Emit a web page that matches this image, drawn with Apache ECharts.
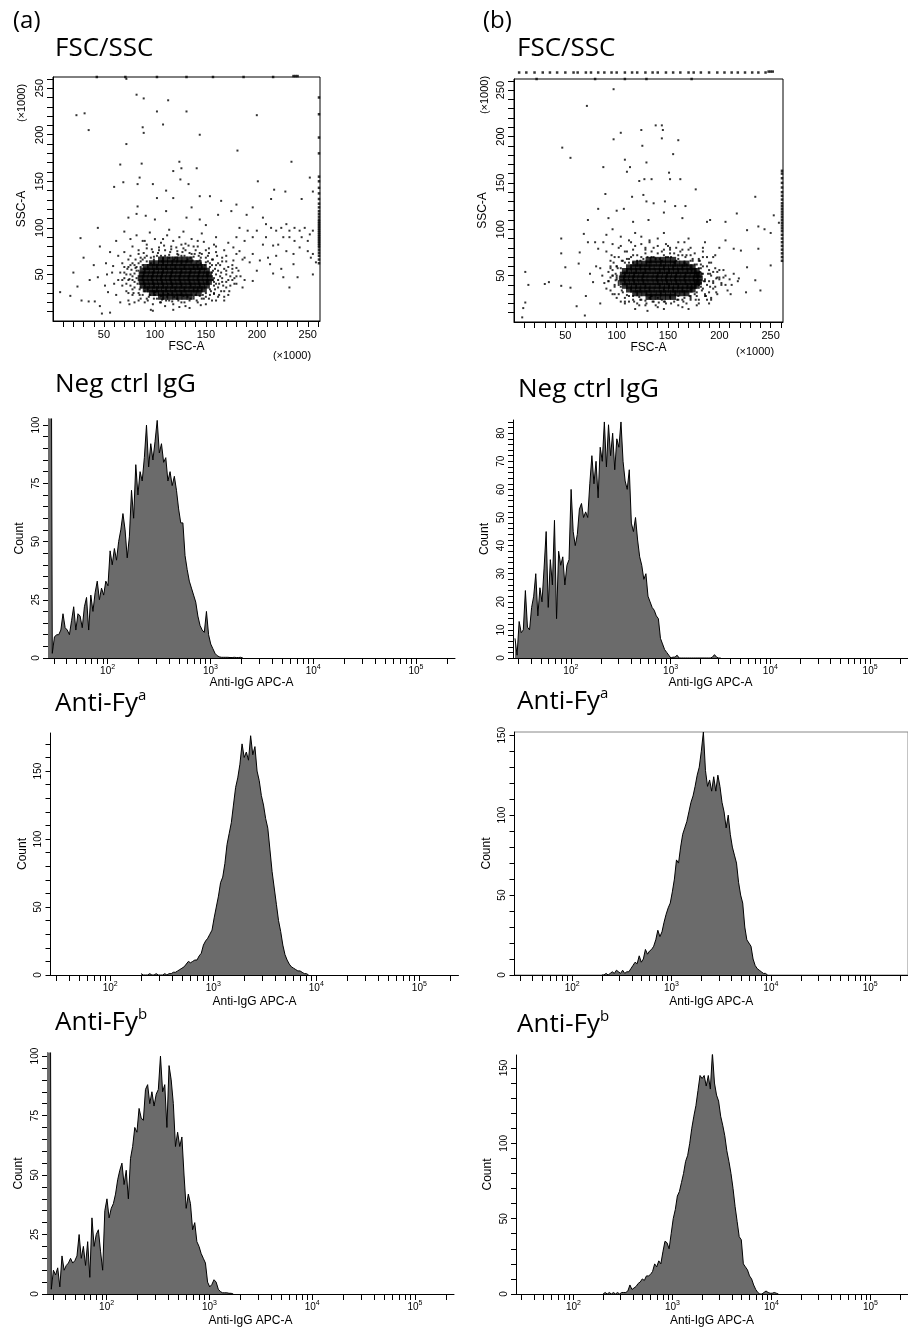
<!DOCTYPE html>
<html>
<head>
<meta charset="utf-8">
<script src="https://cdn.jsdelivr.net/npm/echarts@6/dist/echarts.min.js"></script>
<style>html,body{margin:0;padding:0;background:#fff}#chart{width:908px;height:1328px}</style>
</head>
<body>
<div id="chart"></div>
<script>
// histogram bins: 48 channels per decade, counts
const binsPerDecade = 48;

const negCtrlAStart = 1.42;
const negCtrlA = [300, 300, 2, 9, 10, 10, 12, 19, 13, 12, 10, 16, 22, 12, 19, 18, 13, 22, 26, 12, 27, 20, 28, 33, 25, 30, 27, 33, 31, 46,
  40, 47, 42, 50, 55, 62, 55, 43, 52, 72, 60, 83, 70, 80, 76, 86, 100, 82, 92, 85, 93, 102, 88, 92, 84, 86, 76, 80, 74, 78,
  72, 64, 58, 58, 44, 38, 33, 30, 27, 24, 18, 14, 12, 11, 20, 10, 6, 4, 2, 1, 0.5, 0.3, 0.3, 0.3, 0.3, 0.2, 0.2, 0.3, 0.2, 0.2, 0.3, 0];

const negCtrlBStart = 1.44;
const negCtrlB = [7, 1, 13, 9, 10, 24, 11, 10, 18, 22, 30, 15, 25, 20, 32, 45, 18, 35, 26, 49, 14, 38, 33, 36, 26, 33, 35, 60, 45, 40,
  44, 53, 55, 50, 52, 50, 62, 72, 62, 70, 57, 75, 70, 84, 68, 83, 72, 80, 67, 78, 75, 84, 70, 63, 60, 67, 48, 45, 50, 42,
  36, 33, 28, 30, 22, 20, 18, 17, 15, 14, 7, 5, 3, 2, 1, 0, 0.3, 0.3, 1, 0, 0, 0, 0, 0, 0, 0, 0, 0, 0, 0,
  0, 0, 0, 0, 0, 0.3, 1.2, 0.3, 0, 0];

const fyaAStart = 2.3;
const fyaA = [1, 0, 0, 0, 1, 0, 0, 1, 0, 0, 0, 1, 0, 1, 1, 2, 2, 3, 4, 5, 6, 8, 10, 9, 10, 11, 11, 14, 16, 22,
  25, 27, 30, 33, 42, 50, 58, 68, 72, 82, 96, 104, 112, 125, 138, 145, 155, 170, 160, 164, 158, 176, 162, 168, 150, 143, 132, 125, 115, 108,
  92, 76, 64, 52, 40, 32, 22, 15, 11, 8, 6, 5, 4, 3, 3, 2, 1, 1, 0];

const fyaBStart = 2.3;
const fyaB = [0, 0, 1, 0, 1, 2, 1, 3, 2, 1, 3, 1, 2, 2, 4, 6, 8, 7, 12, 8, 10, 16, 13, 15, 16, 18, 22, 28, 24, 27,
  33, 38, 42, 45, 52, 60, 72, 70, 80, 88, 92, 96, 102, 108, 112, 118, 125, 130, 140, 152, 128, 118, 122, 115, 124, 115, 125, 118, 108, 102,
  92, 100, 88, 80, 75, 70, 58, 50, 45, 30, 22, 20, 18, 10, 6, 4, 3, 2, 1, 1, 0];

const fybAStart = 1.42;
const fybA = [300, 300, 2, 10, 8, 11, 3, 16, 10, 12, 13, 15, 13, 14, 16, 25, 15, 20, 12, 22, 7, 32, 20, 25, 27, 18, 10, 35, 40, 32,
  36, 38, 42, 48, 52, 55, 46, 52, 40, 57, 62, 70, 68, 78, 74, 73, 86, 88, 80, 85, 79, 84, 86, 100, 85, 88, 70, 96, 90, 80,
  62, 68, 62, 66, 50, 36, 42, 38, 27, 30, 22, 20, 17, 15, 13, 5, 3, 4, 6, 5, 2, 1, 0.5, 0.5, 0.5, 0.3, 0.3, 0];

const fybBStart = 2.3;
const fybB = [0, 1, 0, 1, 0, 1, 0, 1, 0, 1, 1, 1, 2, 6, 3, 4, 5, 7, 8, 10, 9, 12, 12, 13, 15, 20, 18, 22, 20, 28,
  35, 34, 30, 40, 50, 56, 65, 68, 74, 80, 88, 92, 100, 110, 118, 125, 135, 145, 143, 145, 138, 145, 136, 160, 140, 132, 128, 118, 112, 105,
  95, 88, 80, 70, 58, 48, 38, 36, 20, 18, 16, 12, 10, 6, 3, 1, 0, 0, 1, 2, 1, 0.5, 0.5, 1, 0.5, 0];

// axis ticks / labels
const logLabelValues = [100, 1000, 10000, 100000];
const scatterLabelValues = [50, 100, 150, 200, 250];
const countLabels = {
  negA: [0, 25, 50, 75, 100], negB: [0, 10, 20, 30, 40, 50, 60, 70, 80],
  fyaA: [0, 50, 100, 150], fyaB: [0, 50, 100, 150],
  fybA: [0, 25, 50, 75, 100], fybB: [0, 50, 100, 150]
};

// FSC/SSC dot plots (x1000), dense centre rows [y, xs]
const coreRowsA = [
  [66, [106, 110, 115, 120, 124, 129, 134]],
  [62, [97, 101, 106, 110, 115, 119, 124, 128, 133, 138, 143]],
  [58, [91, 95, 100, 104, 109, 113, 118, 122, 127, 131, 136, 140, 144, 148]],
  [54, [88, 92, 97, 101, 106, 110, 115, 119, 124, 128, 133, 137, 142, 146, 151]],
  [50, [87, 91, 96, 100, 105, 109, 114, 118, 123, 127, 132, 136, 141, 145, 150, 153]],
  [46, [86, 90, 95, 99, 104, 108, 113, 117, 122, 126, 131, 135, 140, 144, 149, 154]],
  [42, [87, 91, 96, 100, 105, 109, 114, 118, 123, 127, 132, 136, 141, 145, 150, 153]],
  [38, [88, 92, 97, 101, 106, 110, 115, 119, 124, 128, 133, 137, 142, 146, 151]],
  [34, [91, 95, 100, 104, 109, 113, 118, 122, 127, 131, 136, 140, 144, 148]],
  [30, [97, 101, 106, 110, 115, 119, 124, 128, 133, 138, 143]],
  [26, [106, 110, 115, 120, 124, 129, 134]]
];
const ringA = [
  [84,62],[88,66],[92,70],[96,62],[99,69],[103,73],[107,64],[110,70],[115,74],[119,66],[123,71],[127,74],[131,64],[135,68],
  [139,72],[142,64],[145,68],[149,60],[152,64],[156,60],[159,56],[157,44],[160,50],[158,38],[155,32],[150,26],[144,27],[138,24],
  [132,26],[125,28],[119,26],[113,29],[106,27],[100,31],[95,28],[90,32],[86,36],[83,40],[82,46],[80,51],[81,57],[78,62],
  [76,70],[84,76],[92,82],[104,76],[116,77],[130,76],[138,80],[150,76],[161,70],[164,60],[166,46],[163,40],[170,36],[176,44],
  [172,58],[165,32],[160,22],[145,17],[124,15],[107,23],[92,24],[85,28],[78,34],[74,44],[70,52],[77,55],[89,73],[97,77],
  [109,81],[121,79],[133,81],[144,73],[153,73],[158,29],[145,62],[137,65],
  [78,48],[80,42],[82,58],[76,38],[79,30],[84,22],[88,28],[93,22],[99,24],[105,20],[111,22],[117,21],[123,22],[129,20],
  [135,24],[141,22],[147,28],[153,24],[159,34],[163,28],[167,38],[162,44],[165,52],[160,60],[166,64],[170,54],[174,48],
  [178,40],[173,32],[168,26],[157,66],[150,68],[143,70],[136,72],[129,70],[122,72],[114,68],[106,70],[99,66],[92,64],
  [86,68],[81,66],[76,60],[72,50],[75,45],[85,34],[84,54],[88,60],[154,62],[157,54],[158,42],[154,28],[148,24],[70,58],
  [68,44],[74,30],[90,86],[108,88],[126,82],[142,86],[160,80],[170,70],[180,48],[170,42],[176,56]
];
const cloudA = [
  [82,92],[88,86],[95,95],[100,88],[106,84],[112,92],[118,86],[124,90],[130,83],[136,88],[142,80],[148,85],[153,78],[158,82],
  [92,78],[98,74],[104,79],[110,76],[116,80],[122,75],[128,78],[134,73],[140,76],[146,72],[152,70],[160,74],[166,68],[84,72],
  [90,68],[78,80],[74,66],[86,64],[96,68],[102,70],[108,67],[114,71],[120,68],[126,70],[132,66],[138,69],[144,65],[150,63],
  [156,66],[162,62],[170,64],[176,60],[80,60],[73,56],[68,62],[64,70],[70,74],[76,88],[70,96],[114,98],[128,96],[146,94],
  [160,90],[172,84],[168,76],[180,72],[186,66],[66,52],[70,46],[72,40],[76,50],[78,44],[80,36],[82,54],[84,30],[78,28],
  [72,32],[68,38],[64,44],[86,58],[74,58],[154,58],[156,52],[158,46],[160,40],[162,54],[164,48],[166,42],[168,56],[170,50],
  [172,44],[174,38],[176,52],[178,46],[154,34],[158,30],[162,36],[168,32],[180,40],[182,54],[184,48],[188,44],[150,30],[186,36],
  [86,24],[90,20],[94,26],[98,18],[102,24],[106,20],[110,16],[114,22],[118,18],[122,24],[126,20],[130,16],[134,22],[138,26],
  [142,20],[146,24],[150,18],[156,22],[162,26],[168,22],[80,20],[74,22],[96,12],[112,26],[128,27],[140,28],[100,28],[118,12],
  [134,14],[172,28],
  [72,260],[82,243],[89,239],[113,237],[102,225],[131,225],[23,221],[31,223],[200,221],[35,205],[88,208],[108,211],[89,202],
  [72,190],[144,200],[181,183],[66,168],[87,169],[124,171],[126,164],[118,161],[141,164],[60,144],[69,149],[85,154],[83,147],
  [98,147],[111,140],[125,152],[133,147],[144,134],[154,134],[165,129],[180,125],[201,150],[196,122],[214,131],[217,141],
  [228,139],[234,171],[252,154],[255,139],[244,131],[102,132],[118,132],[136,122],[83,123],[91,113],[74,111],[82,115],
  [100,109],[111,118],[131,111],[144,109],[150,103],[162,114],[175,118],[190,114],
  [206,111],[209,104],[214,100],[219,97],[224,100],[229,104],[232,97],[237,100],[242,97],[247,100],[252,93],[255,97],[250,86],
  [244,90],[237,86],[232,90],[226,90],[221,82],[216,81],[209,90],[206,82],[200,97],[196,90],[191,97],[188,86],[183,100],
  [180,90],[177,79],[229,75],[236,72],[242,79],[250,75],[255,72],[196,72],[203,65],[193,63],[188,68],[219,70],[224,56],
  [236,61],[253,68],[258,63],[213,61],[177,65],[183,75],[196,43],[232,36],[255,50],[240,47],[226,47],[200,54],[180,57],
  [216,51],[211,68],
  [7,31],[17,27],[24,37],[28,22],[35,21],[41,21],[46,16],[48,8],[54,31],[51,38],[44,47],[53,50],[30,68],[27,89],[44,100],
  [59,59],[60,40],[66,20],[75,18],[56,9],[98,11],[62,28],[58,52],[52,62],[40,60],[46,80],[56,74],[62,86],[36,44],[20,52]
];
const edgeA = [
  [261,62],[261,66],[261,70],[261,73],[261,76],[261,79],[261,81],[261,83],[261,85],[261,87],[261,89],[261,91],[261,93],
  [261,95],[261,97],[261,99],[261,101],[261,103],[261,105],[261,107],[261,109],[261,112],[261,115],[261,118],[261,122],
  [261,126],[261,131],[261,137],[261,143],[261,150],[261,155],[261,180],[261,197],[261,222],[261,240],
  [43,262],[71,262],[102,262],[131,262],[157,262],[187,262],[216,262],[236,263],[238,263],[240,263]
];

const coreRowsB = [
  [67, [131, 135, 140, 145, 150, 155]],
  [63, [118, 122, 127, 131, 136, 141, 145, 150, 155, 159, 164, 168]],
  [59, [112, 116, 121, 125, 130, 134, 139, 144, 148, 153, 157, 162, 166, 171, 174]],
  [55, [108, 112, 117, 121, 126, 130, 135, 140, 144, 149, 153, 158, 162, 167, 171, 175, 178]],
  [51, [106, 110, 115, 119, 124, 128, 133, 138, 142, 147, 151, 156, 160, 165, 169, 174, 178, 180]],
  [47, [105, 109, 114, 118, 123, 127, 132, 137, 141, 146, 150, 155, 159, 164, 168, 173, 177, 181]],
  [43, [106, 110, 115, 119, 124, 128, 133, 138, 142, 147, 151, 156, 160, 165, 169, 174, 178, 180]],
  [39, [108, 112, 117, 121, 126, 130, 135, 140, 144, 149, 153, 158, 162, 167, 171, 175, 178]],
  [35, [112, 116, 121, 125, 130, 134, 139, 144, 148, 153, 157, 162, 166, 171, 174]],
  [31, [118, 122, 127, 131, 136, 141, 145, 150, 155, 159, 164, 168]],
  [27, [131, 135, 140, 145, 150, 155]]
];
const ringB = [
  [108,64],[112,68],[116,72],[120,66],[124,70],[128,74],[132,64],[136,70],[140,74],[144,66],[148,70],[152,74],[156,64],[160,68],
  [164,72],[168,62],[172,66],[176,62],[180,58],[183,52],[185,44],[182,38],[178,32],[172,28],[166,26],[160,24],[152,28],[146,22],
  [140,26],[134,28],[128,23],[122,27],[116,24],[110,29],[105,34],[102,40],[100,46],[99,52],[101,58],[97,64],[95,72],[104,82],
  [116,78],[128,80],[140,82],[152,78],[162,76],[172,72],[180,66],[188,60],[191,52],[190,44],[194,36],[186,30],[180,20],[160,18],
  [138,18],[122,18],[108,20],[100,26],[94,34],[92,44],[96,50],[94,60],[102,70],[110,76],[124,84],[134,76],[146,78],[158,80],
  [170,78],[184,70],[196,58],[200,46],[188,24],[170,14],
  [100,48],[102,42],[104,58],[98,38],[102,30],[108,22],[112,28],[117,22],[123,24],[129,20],[135,22],[141,21],[147,22],[153,20],
  [159,24],[165,22],[171,28],[177,24],[183,34],[187,28],[191,38],[186,44],[189,52],[184,60],[190,64],[194,54],[198,48],
  [202,40],[197,32],[192,26],[181,66],[174,68],[167,70],[160,72],[153,70],[146,72],[138,68],[130,70],[123,66],[116,64],
  [110,68],[105,66],[100,60],[96,50],[99,45],[178,62],[181,54],[182,42],[178,28],[172,24],[194,42],[200,56],[94,58],
  [92,44],[98,30],[114,86],[132,88],[150,82],[166,86],[184,80],[194,70],[204,48]
];
const cloudB = [
  [112,88],[118,82],[124,92],[128,78],[132,86],[136,80],[140,90],[144,76],[148,84],[152,80],[156,74],[160,86],[164,78],[168,72],
  [172,80],[176,74],[180,68],[184,76],[120,72],[114,70],[108,76],[102,80],[98,70],[106,66],[112,64],[126,68],[134,70],[142,68],
  [150,70],[158,66],[166,64],[174,66],[182,62],[188,70],[192,64],[196,72],[100,60],[94,66],[90,76],[96,84],[104,92],[118,96],
  [146,96],[170,90],[186,86],[200,80],[206,88],[96,56],[100,50],[102,44],[104,38],[98,40],[94,48],[92,54],[90,36],[96,30],
  [106,32],[86,50],[88,42],[84,58],[182,58],[184,52],[186,46],[188,40],[190,56],[192,50],[194,44],[196,38],[198,54],[200,48],
  [202,42],[204,56],[206,50],[210,46],[212,40],[208,34],[198,30],[190,32],[184,36],[180,40],[214,52],[218,44],
  [108,26],[112,22],[116,28],[120,20],[124,24],[128,18],[132,26],[136,22],[140,16],[144,24],[148,20],[152,26],[156,22],
  [160,28],[164,24],[168,20],[172,26],[176,30],[180,24],[186,28],[192,24],[104,22],[118,14],[130,12],[146,14],[164,16],
  [178,18],[190,20],
  [97,251],[71,233],[104,204],[97,197],[47,188],[55,177],[87,167],[108,175],[110,162],[113,167],[124,207],[125,190],[138,212],
  [144,212],[145,207],[144,198],[160,196],[155,181],[129,172],[122,152],[127,154],[134,154],[151,161],[152,154],[162,154],
  [177,143],[89,138],[115,135],[126,137],[129,130],[136,128],[147,130],[157,125],[167,125],[100,120],[107,122],[82,122],
  [72,110],[92,112],[116,108],[131,110],[146,118],[164,112],[188,108],[191,110],[206,108],[217,117],[235,135],[227,99],
  [238,103],[244,100],[250,96],[253,115],[258,107],[238,79],[221,77],[214,79],[227,59],[235,45],[240,34],[250,61],[219,47],
  [226,32],[206,40],[197,47],[211,30],[46,90],[46,74],[50,59],[46,39],[55,37],[34,43],[30,41],[14,40],[11,54],[11,21],
  [9,15],[8,5],[61,17],[69,7],[63,63],[64,75],[72,86],[79,86],[82,79],[87,86],[68,95],[77,43],[80,60],[74,52],[70,28],
  [84,20],[90,94],[96,100]
];
const edgeB = [
  [261,66],[261,70],[261,74],[261,78],[261,82],[261,86],[261,90],[261,94],[261,98],[261,101],[261,104],[261,107],[261,110],
  [261,113],[261,116],[261,119],[261,122],[261,125],[261,128],[261,132],[261,136],[261,140],[261,145],[261,150],[261,155],
  [261,160],[261,163],
  [22,262],[79,262],[108,262],[129,262],[173,262],
  [5,269],[12,269],[20,269],[28,269],[35,269],[42,269],[50,269],[58,269],[62,269],[70,269],[75,269],[82,269],[88,269],
  [95,269],[100,269],[108,269],[115,269],[120,269],[128,269],[135,269],[140,269],[148,269],[155,269],[162,269],[170,269],
  [175,269],[182,269],[190,269],[198,269],[205,269],[212,269],[218,269],[225,269],[232,269],[238,269],[245,269],[248,270],
  [250,270],[252,270]
];

const FONT = 'Liberation Sans';
const TITLE_FONT = 'Open Sans';
const xMin = Math.pow(10, 1.42), xMax = Math.pow(10, 5.38);

const logTicks = [];
for (let e = 1; e <= 5; e++) for (let m = 1; m <= 9; m++) {
  const v = m * Math.pow(10, e);
  if (v > xMin && v < xMax) logTicks.push(v);
}
const scatterTicks = [];
for (let v = 10; v <= 260; v += 10) scatterTicks.push(v);

function bins(start, counts) {
  return counts.map((c, i) => [Math.pow(10, start + i / binsPerDecade), c]);
}
function rows(r) {
  const out = [];
  r.forEach(([y, xs]) => xs.forEach(x => out.push([x, y])));
  return out;
}
function countTicks(max, step) {
  const t = [];
  for (let v = 0; v <= max; v += step) t.push(v);
  return t;
}

const grids = [
  {left: 53, top: 77, width: 267, height: 244, show: true, borderColor: '#000', borderWidth: 1},
  {left: 514, top: 79, width: 269, height: 243, show: true, borderColor: '#000', borderWidth: 1},
  {left: 48, top: 419, width: 407, height: 239},
  {left: 513, top: 420, width: 406, height: 238},
  {left: 50.5, top: 733, width: 408, height: 242},
  {left: 514.5, top: 732, width: 406, height: 243, show: true, borderColor: '#888', borderWidth: 1},
  {left: 47, top: 1053, width: 407, height: 241},
  {left: 516, top: 1055, width: 406, height: 239}
];

const tickStyle = {show: true, length: 6, lineStyle: {color: '#000', width: 1}};
const lineStyle = {lineStyle: {color: '#000', width: 1}};

function scatterX(g) {
  return {
    type: 'value', gridIndex: g, min: 0, max: 262,
    axisLine: lineStyle, splitLine: {show: false},
    axisTick: Object.assign({customValues: scatterTicks}, tickStyle),
    axisLabel: {customValues: scatterLabelValues, fontFamily: FONT, fontSize: 11, color: '#000', margin: 8},
    name: 'FSC-A', nameLocation: 'middle', nameGap: 16,
    nameTextStyle: {fontFamily: FONT, fontSize: 12, color: '#000'}
  };
}
function scatterY(g) {
  return {
    type: 'value', gridIndex: g, min: 0, max: 262,
    axisLine: lineStyle, splitLine: {show: false},
    axisTick: Object.assign({customValues: scatterTicks}, tickStyle),
    axisLabel: {customValues: scatterLabelValues, rotate: 90, fontFamily: FONT, fontSize: 11, color: '#000', margin: 8},
    name: 'SSC-A', nameLocation: 'middle', nameGap: 25,
    nameTextStyle: {fontFamily: FONT, fontSize: 12, color: '#000', padding: [0, 20, 0, 0]}
  };
}
function histX(g, gap) {
  return {
    type: 'log', logBase: 10, gridIndex: g, min: xMin, max: xMax,
    axisLine: lineStyle, splitLine: {show: false},
    axisTick: Object.assign({customValues: logTicks}, tickStyle),
    axisLabel: {
      customValues: logLabelValues, margin: 6, color: '#000',
      formatter: v => '{b|10}{s|' + Math.round(Math.log10(v)) + '}',
      rich: {
        b: {fontFamily: FONT, fontSize: 10, color: '#000', lineHeight: 14},
        s: {fontFamily: FONT, fontSize: 7, color: '#000', lineHeight: 8, verticalAlign: 'top'}
      }
    },
    name: 'Anti-IgG APC-A', nameLocation: 'middle', nameGap: gap,
    nameTextStyle: {fontFamily: FONT, fontSize: 12, color: '#000'}
  };
}
function histY(g, max, labels, step) {
  return {
    type: 'value', gridIndex: g, min: 0, max: max,
    axisLine: lineStyle, splitLine: {show: false},
    axisTick: Object.assign({customValues: countTicks(max, step)}, {show: true, length: 5, lineStyle: {color: '#000'}}),
    axisLabel: {customValues: labels, rotate: 90, fontFamily: FONT, fontSize: 10, color: '#000', margin: 7},
    name: 'Count', nameLocation: 'middle', nameGap: 22,
    nameTextStyle: {fontFamily: FONT, fontSize: 12, color: '#000'}
  };
}

function histSeries(g, data) {
  return {
    type: 'line', xAxisIndex: g, yAxisIndex: g, data: data, showSymbol: false, clip: true,
    lineStyle: {color: '#000', width: 1}, areaStyle: {color: '#6b6b6b', opacity: 1}, silent: true
  };
}
function dotSeries(g, data, size, clip) {
  return {
    type: 'scatter', xAxisIndex: g, yAxisIndex: g, data: data, symbol: 'rect', symbolSize: size,
    itemStyle: {color: '#000'}, clip: clip, silent: true
  };
}

const titleStyle = {
  fontFamily: TITLE_FONT, fontSize: 26, fontWeight: 'normal', color: '#000',
  rich: {
    t: {fontFamily: TITLE_FONT, fontSize: 26, color: '#000', lineHeight: 32},
    s: {fontFamily: TITLE_FONT, fontSize: 15, color: '#000', lineHeight: 20, verticalAlign: 'top'}
  }
};
function title(text, left, top, size) {
  const ts = Object.assign({}, titleStyle);
  if (size) ts.fontSize = size;
  return {text: text, left: left, top: top, padding: 0, textStyle: ts};
}

const option = {
  animation: false,
  backgroundColor: '#fff',
  title: [
    title('(a)', 13, 9, 24), title('(b)', 483, 9, 24),
    title('FSC/SSC', 55, 36), title('FSC/SSC', 517, 36),
    title('Neg ctrl IgG', 55, 372), title('Neg ctrl IgG', 518, 377),
    title('{t|Anti-Fy}{s|a}', 55, 688), title('{t|Anti-Fy}{s|a}', 517, 686),
    title('{t|Anti-Fy}{s|b}', 55, 1007), title('{t|Anti-Fy}{s|b}', 517, 1009)
  ],
  grid: grids,
  xAxis: [
    scatterX(0), scatterX(1),
    histX(2, 17), histX(3, 17), histX(4, 21), histX(5, 21), histX(6, 21), histX(7, 21)
  ],
  yAxis: [
    scatterY(0), scatterY(1),
    histY(2, 102.6, countLabels.negA, 5), histY(3, 84.7, countLabels.negB, 2),
    histY(4, 178, countLabels.fyaA, 10), histY(5, 152, countLabels.fyaB, 10),
    histY(6, 101.3, countLabels.fybA, 5), histY(7, 158.6, countLabels.fybB, 10)
  ],
  graphic: [
    {type: 'text', x: 22, y: 103, rotation: Math.PI / 2,
      style: {text: '(×1000)', font: '11px "Liberation Sans"', fill: '#000', align: 'center', verticalAlign: 'middle'}},
    {type: 'text', x: 292, y: 356,
      style: {text: '(×1000)', font: '11px "Liberation Sans"', fill: '#000', align: 'center', verticalAlign: 'middle'}},
    {type: 'text', x: 485, y: 95, rotation: Math.PI / 2,
      style: {text: '(×1000)', font: '11px "Liberation Sans"', fill: '#000', align: 'center', verticalAlign: 'middle'}},
    {type: 'text', x: 755, y: 352,
      style: {text: '(×1000)', font: '11px "Liberation Sans"', fill: '#000', align: 'center', verticalAlign: 'middle'}}
  ],
  series: [
    dotSeries(0, rows(coreRowsA), 6, true),
    dotSeries(0, ringA, 2, true),
    dotSeries(0, cloudA, 2, true),
    dotSeries(0, edgeA, 2.5, false),
    dotSeries(1, rows(coreRowsB), 6, true),
    dotSeries(1, ringB, 2, true),
    dotSeries(1, cloudB, 2, true),
    dotSeries(1, edgeB, 2.5, false),
    histSeries(2, bins(negCtrlAStart, negCtrlA)),
    histSeries(3, bins(negCtrlBStart, negCtrlB)),
    histSeries(4, bins(fyaAStart, fyaA)),
    histSeries(5, bins(fyaBStart, fyaB)),
    histSeries(6, bins(fybAStart, fybA)),
    histSeries(7, bins(fybBStart, fybB))
  ]
};

const chart = echarts.init(document.getElementById('chart'), null, {renderer: 'canvas'});
chart.setOption(option);
</script>
</body>
</html>
